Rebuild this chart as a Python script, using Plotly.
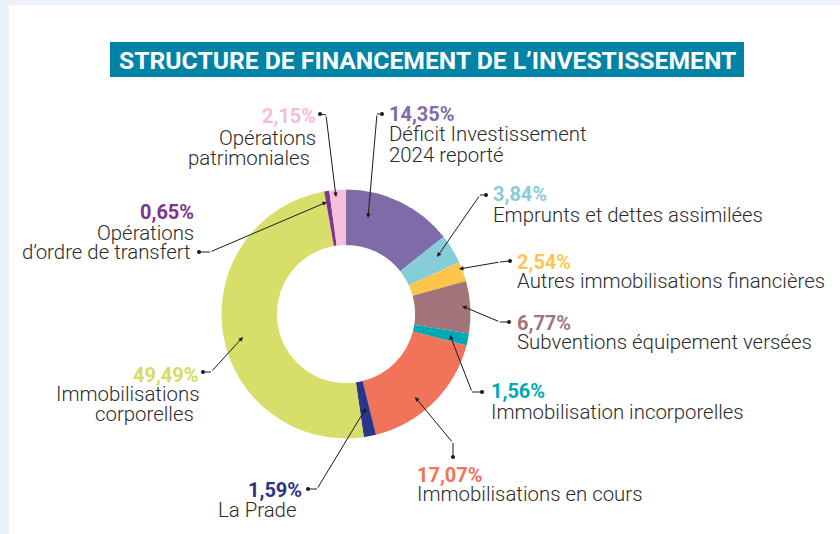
import plotly.graph_objects as go

# ---- data ----
categories = [
    "Déficit Investissement 2024 reporté",
    "Emprunts et dettes assimilées",
    "Autres immobilisations financières",
    "Subventions équipement versées",
    "Immobilisation incorporelles",
    "Immobilisations en cours",
    "La Prade",
    "Immobilisations corporelles",
    "Opérations d’ordre de transfert",
    "Opérations patrimoniales",
]
values = [14.35, 3.84, 2.54, 6.77, 1.56, 17.07, 1.59, 49.49, 0.65, 2.15]
label_lines = [
    ["Déficit Investissement", "2024 reporté"],
    ["Emprunts et dettes assimilées"],
    ["Autres immobilisations financières"],
    ["Subventions équipement versées"],
    ["Immobilisation incorporelles"],
    ["Immobilisations en cours"],
    ["La Prade"],
    ["Immobilisations", "corporelles"],
    ["Opérations", "d’ordre de transfert"],
    ["Opérations", "patrimoniales"],
]
colors = ["#7F6BA8", "#86CDD8", "#FDC64B", "#A2757A", "#00A9B5",
          "#F0735A", "#2B3589", "#D7DF6A", "#7D3590", "#F6C0DC"]
text_colors = ["#7F6BA8", "#86CDD8", "#FDC64B", "#A2757A", "#00A9B5",
               "#F0735A", "#2B3589", "#D4DC62", "#7D3590", "#F4BDD9"]
title = "STRUCTURE DE FINANCEMENT DE L’INVESTISSEMENT"

# ---- layout (pixel positions) ----
W, H = 840, 534
cx, cy, R = 346, 314, 124.5
HOLE = 0.555

# per label: anchor side, x, y of percent line, list of (x, y) of text lines,
# leader: dot, corner, end
layout_spec = [
    dict(side="left", px=388, py=114, lines=[(388, 134), (388, 155)],
         dot=(382, 114), corner=(377, 114), end=(368, 218)),
    dict(side="left", px=492, py=194, lines=[(492, 214.5)],
         dot=(486, 195), corner=(480, 195), end=(437, 257)),
    dict(side="left", px=516, py=261.5, lines=[(516, 281)],
         dot=(510, 261), corner=(500, 262), end=(459, 269)),
    dict(side="left", px=516, py=322.5, lines=[(516, 341.5)],
         dot=(509, 322), corner=(500, 322), end=(462, 306)),
    dict(side="left", px=490, py=391, lines=[(490, 411.5)],
         dot=(482, 392), corner=(472, 392), end=(450, 335)),
    dict(side="left", px=416, py=474.5, lines=[(416, 494)],
         dot=(453, 457), corner=(453, 443), end=(415, 397)),
    dict(side="right", px=303, py=490, lines=[(298, 510)],
         dot=(308, 489), corner=(317, 489), end=(366, 408)),
    dict(side="right", px=200, py=374.5, lines=[(200, 394), (195, 414)],
         dot=(203, 372), corner=(211, 372), end=(243, 337)),
    dict(side="right", px=195, py=211.5, lines=[(195, 233), (192, 252)],
         dot=(199, 252), corner=(210, 252), end=(327, 202)),
    dict(side="right", px=317, py=115.5, lines=[(317, 138), (311, 158)],
         dot=(320, 114), corner=(326, 115), end=(336, 197)),
]

FONT = "Roboto"
fig = go.Figure()

fig.add_trace(go.Pie(
    labels=categories, values=values, sort=False, direction="clockwise",
    rotation=0, hole=HOLE, textinfo="none", hoverinfo="label+percent",
    marker=dict(colors=colors, line=dict(width=0)), showlegend=False,
    domain=dict(x=[(cx - R) / W, (cx + R) / W],
                y=[(H - cy - R) / H, (H - cy + R) / H]),
))

annotations = []
for i, spec in enumerate(layout_spec):
    pct = f"{values[i]:.2f}".replace(".", ",") + "%"
    anchor = spec["side"]
    annotations.append(dict(
        x=spec["px"], y=spec["py"], xref="x", yref="y", text=f"<b>{pct}</b>",
        showarrow=False, xanchor=anchor, yanchor="middle", borderpad=0,
        font=dict(family=FONT, size=20, color=text_colors[i]),
    ))
    for (lx, ly), t in zip(spec["lines"], label_lines[i]):
        annotations.append(dict(
            x=lx, y=ly, xref="x", yref="y", text=t, showarrow=False,
            xanchor=anchor, yanchor="middle", borderpad=0,
            font=dict(family=FONT, size=20.4, color="#2B2B2B", weight=300),
        ))
    # arrow from corner to end
    annotations.append(dict(
        x=spec["end"][0], y=spec["end"][1], ax=spec["corner"][0], ay=spec["corner"][1],
        xref="x", yref="y", axref="x", ayref="y", text="", showarrow=True,
        arrowhead=2, arrowsize=0.9, arrowwidth=1, arrowcolor="#1A1A1A", standoff=0,
    ))
    fig.add_trace(go.Scatter(
        x=[spec["dot"][0], spec["corner"][0]], y=[spec["dot"][1], spec["corner"][1]],
        mode="lines", line=dict(color="#1A1A1A", width=1),
        hoverinfo="skip", showlegend=False,
    ))
    fig.add_trace(go.Scatter(
        x=[spec["dot"][0]], y=[spec["dot"][1]], mode="markers",
        marker=dict(color="#1A1A1A", size=4), hoverinfo="skip", showlegend=False,
    ))

annotations.append(dict(
    x=427, y=60, xref="x", yref="y", text=f"<b>{title}</b>", showarrow=False,
    xanchor="center", yanchor="middle",
    font=dict(family=FONT, size=24.7, color="white"),
))

shapes = [
    dict(type="rect", xref="x", yref="y", x0=9, x1=W + 5, y0=5, y1=H + 5,
         fillcolor="white", line=dict(width=0), layer="below"),
    dict(type="rect", xref="x", yref="y", x0=110, x1=744, y0=42, y1=77,
         fillcolor="#0083A4", line=dict(width=0), layer="below"),
]

fig.update_layout(
    width=W, height=H, margin=dict(l=0, r=0, t=0, b=0),
    paper_bgcolor="#EAF1F9", plot_bgcolor="rgba(0,0,0,0)",
    xaxis=dict(range=[0, W], visible=False, fixedrange=True),
    yaxis=dict(range=[H, 0], visible=False, fixedrange=True),
    annotations=annotations, shapes=shapes,
)

fig.write_html(
    "out.html",
    config=dict(displayModeBar=False),
    post_script="document.body.style.margin='0';document.body.style.overflow='hidden';",
)
